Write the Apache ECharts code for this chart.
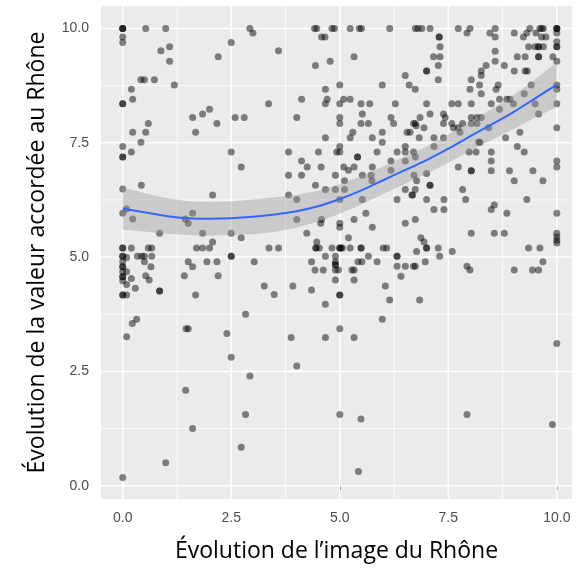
<!DOCTYPE html>
<html>
<head>
<meta charset="utf-8">
<script src="https://cdn.jsdelivr.net/npm/echarts@6/dist/echarts.min.js"></script>
<style>
  html, body { margin: 0; padding: 0; background: #fff; }
  #chart { width: 581px; height: 571px; }
</style>
</head>
<body>
<div id="chart"></div>
<script>
// chaque point : [évolution de l'image, évolution de la valeur]
const points = [
  [0,10],[0,10],[0,10],[0.53,10],[0.99,10],[0,9.81],[0,9.69],[0.88,9.51],[1.08,9.6],[1.08,9.28],
  [0.42,8.88],[0.5,8.88],[0.73,8.88],[1.19,8.76],[0.2,8.67],[0.23,8.45],[0,8.35],[0,8.35],[0.59,7.92],[0.23,7.73],
  [0.53,7.73],[0.42,7.51],[0,7.42],[0.2,7.3],[0,7.19],[0,7.19],[1.61,8.05],[1.84,8.13],[2.0,8.23],[2.17,7.92],
  [1.68,7.73],[2.59,8.05],[2.8,8.05],[2.2,9.38],[2.5,9.69],[2.93,10],[3.0,9.9],[2.5,7.3],[2.73,6.97],
  [4.42,10],[4.47,10],[4.82,10],[4.88,10],[4.58,9.81],[4.66,9.81],[5.24,10],[5.45,10],[5.5,10],[6.15,10],
  [6.74,10],[3.59,9.51],[5.33,9.38],[4.44,9.19],[4.78,9.28],[6.51,8.97],[4.67,8.67],[5.0,8.76],[5.98,8.76],[6.6,8.76],
  [3.36,8.35],[4.12,8.45],[4.71,8.45],[4.67,8.35],[5.0,8.35],[5.09,8.45],[5.24,8.45],[5.49,8.35],[5.69,8.35],[6.28,8.35],
  [4.01,8.05],[5.52,8.13],[5.0,8.05],[5.0,7.92],[5.49,7.92],[5.66,7.92],[6.18,8.05],[6.24,7.92],[6.7,7.92],[5.3,7.73],
  [5.24,7.61],[5.98,7.73],[6.55,7.73],[6.62,7.73],[4.67,7.61],[5.75,7.61],[5.98,7.51],[5.0,7.42],[4.93,7.3],[5.0,7.3],
  [3.82,7.3],[4.51,7.3],[5.86,7.3],[6.32,7.3],[6.51,7.42],[6.51,7.3],[5.41,7.19],[5.41,7.19],[4.12,7.1],[4.25,6.97],
  [4.57,6.97],[5.09,6.97],[5.2,6.9],[5.33,6.97],[5.75,6.97],[6.18,7.1],[6.51,7.1],[6.18,6.9],[6.7,7.3],
  [6.8,10],[6.89,10],[7.08,10],[7.73,10],[8.0,10],[7.93,9.9],[8.46,9.9],[8.58,10],[8.58,9.81],[9.02,9.9],
  [9.38,10],[9.61,10],[9.65,10],[9.69,10],[9.31,9.9],[9.52,9.9],[9.23,9.81],[9.65,9.81],[9.75,9.81],[10,10],
  [10,10],[10,10],[10,9.9],[10,9.71],[10,9.6],[10,9.6],[7.29,9.81],[7.29,9.81],[7.31,9.6],[7.16,9.38],
  [7.31,9.38],[7.27,9.19],[7.0,9.07],[7.0,9.07],[7.27,8.88],[8.58,9.5],[8.58,9.28],[8.79,9.19],[9.09,9.38],[9.27,9.38],
  [9.35,9.6],[9.5,9.6],[9.58,9.6],[9.58,9.6],[9.69,9.6],[9.58,9.38],[9.58,9.38],[9.91,9.38],[10,9.28],[9.27,9.07],
  [9.32,9.07],[9.02,9.07],[8.37,9.19],[8.26,9.07],[8.26,8.97],[8.03,8.88],[8.22,8.76],[8.65,8.76],[8.6,8.67],[8.0,8.67],
  [8.26,8.57],[6.74,8.67],[9.41,8.76],[10,8.76],[10,8.67],[10,8.35],[7.0,8.35],[7.58,8.35],[7.73,8.35],[8.03,8.35],
  [8.49,8.35],[8.68,8.45],[8.85,8.45],[8.92,8.45],[9.0,8.35],[9.25,8.57],[9.5,8.35],[9.58,8.13],[8.68,8.23],[7.08,8.13],
  [7.39,8.13],[7.43,8.05],[6.85,8.05],[6.74,7.92],[6.76,7.87],[6.94,7.83],[7.39,7.92],[7.58,7.92],[7.62,7.83],[7.83,7.92],
  [7.73,7.83],[7.77,7.73],[8.03,8.05],[8.16,8.05],[8.26,8.05],[8.03,7.92],[8.16,7.92],[8.43,7.83],[9.15,7.73],[10,7.83],
  [6.83,7.61],[7.17,7.61],[7.39,7.61],[8.2,7.51],[8.23,7.51],[8.82,7.61],[9.09,7.42],[9.25,7.3],[7.17,7.42],[6.74,7.19],
  [7.98,7.3],[8.14,7.3],[8.49,7.3],[8.49,7.1],[8.49,6.89],[7.73,6.97],[8.03,6.89],[8.03,6.89],[8.91,6.89],[9.45,6.89],
  [10,7.1],[10,6.97],[7.0,6.83],
  [0,6.49],[0.43,6.57],[0,5.96],[0.09,6.05],[0.23,5.83],[2.07,6.36],[1.61,5.96],[1.44,5.83],[1.51,5.74],[0.85,5.52],
  [1.84,5.52],[2.5,5.52],[2.73,5.42],[2.07,5.33],[1.7,5.2],[1.84,5.2],[2.0,5.2],[0,5.2],[0,5.2],[0,5.02],
  [0,5.02],[0,4.9],[0,4.79],[0,4.79],[0,4.68],[0,4.57],[0,4.57],[0,4.48],[0.2,5.2],[0.09,4.99],
  [0.09,4.68],[0.2,4.53],[0.09,4.4],[0.29,4.32],[0.34,5.02],[0.44,5.02],[0.5,5.02],[0.59,5.2],[0.67,5.2],[0.67,5.02],
  [0.5,4.9],[0.65,4.79],[0.53,4.59],[0.61,4.5],[0,4.17],[0,4.17],[0.09,4.17],[0.85,4.26],[0.85,4.26],[1.51,4.9],
  [1.61,4.79],[1.42,4.59],[1.94,4.9],[2.17,4.9],[2.2,4.59],[2.5,5.02],[2.5,5.02],[3.03,4.9],[1.68,4.17],[2.83,3.75],
  [0.22,3.55],[0.32,3.64],[0.09,3.26],[1.46,3.43],[1.51,3.43],[2.4,3.33],
  [2.5,2.81],[2.93,2.4],[1.45,2.09],[2.83,1.56],[1.61,1.25],[2.73,0.84],[0.99,0.5],[0,0.18],
  [3.88,3.24],[4.67,3.24],[5.33,3.24],[4.01,2.62],[5.0,1.56],[5.49,1.46],[5.43,0.31],
  [10,3.11],[7.93,1.56],[9.9,1.34],
  [3.82,6.79],[4.12,6.79],[4.9,6.79],[5.52,6.79],[5.72,6.79],[5.11,6.67],[5.74,6.67],[4.44,6.57],[4.67,6.48],[4.9,6.48],
  [5.11,6.48],[3.82,6.36],[4.01,6.26],[5.0,6.26],[5.52,6.26],[5.6,5.96],[6.32,6.26],[6.51,6.48],[6.66,6.36],[4.01,5.82],
  [4.58,5.82],[4.56,5.74],[5.0,5.74],[5.0,5.65],[5.33,5.82],[5.75,5.65],[6.51,5.74],[4.24,5.52],[4.47,5.33],[5.2,5.42],
  [3.37,5.2],[3.59,5.2],[4.45,5.2],[4.45,5.2],[4.53,5.2],[4.82,5.2],[5.0,5.2],[5.0,5.2],[5.03,5.2],[5.06,5.2],
  [5.24,5.2],[5.49,5.2],[5.49,5.2],[6.0,5.2],[6.08,5.2],[6.32,5.02],[6.32,5.02],[4.35,4.9],[4.67,5.02],[4.9,5.02],
  [4.9,4.9],[4.9,4.83],[4.9,4.83],[4.9,4.72],[5.42,4.9],[5.51,4.9],[5.66,5.02],[5.86,4.9],[6.32,4.8],[6.51,4.8],
  [6.7,4.8],[4.43,4.72],[4.62,4.72],[4.97,4.72],[5.28,4.72],[5.33,4.72],[4.9,4.5],[5.33,4.5],[6.41,4.58],[3.26,4.37],
  [3.49,4.18],[3.92,4.37],[4.35,4.28],[5.0,4.17],[5.0,4.17],[6.05,4.37],[6.15,4.06],[4.67,3.97],[5.98,3.64],[5.0,3.43],
  [6.71,6.79],[6.77,6.67],[7.08,6.57],[7.08,6.57],[6.74,6.48],[6.68,6.36],[7.0,6.26],[7.4,6.26],[7.83,6.48],[7.9,6.26],
  [7.17,6.04],[7.4,6.04],[6.74,5.82],[8.49,6.04],[8.56,6.14],[8.85,5.96],[9.31,6.26],[9.02,6.67],[9.68,6.67],[10,5.96],
  [8.03,5.52],[8.56,5.52],[8.79,5.52],[10,5.52],[10,5.44],[10,5.37],[10,5.31],[6.87,5.42],[6.94,5.33],[7.0,5.2],
  [7.0,5.2],[7.27,5.2],[6.77,5.12],[7.59,5.12],[7.3,5.02],[6.74,4.8],[6.97,4.9],[7.93,4.8],[8.0,4.72],[9.35,5.2],
  [9.61,5.2],[9.68,4.9],[9.02,4.72],[9.44,4.72],[9.58,4.72],[6.84,4.06]
];

// courbe lissée (loess) et intervalle de confiance
const smoothX = [0, 0.5, 1, 1.5, 2, 2.5, 3, 3.5, 4, 4.5, 5, 5.5, 6, 6.5, 7, 7.5, 8, 8.5, 9, 9.5, 10];
const smoothY = [6.06, 5.98, 5.9, 5.85, 5.84, 5.85, 5.88, 5.93, 6.0, 6.11, 6.27, 6.46, 6.68, 6.9, 7.12, 7.37, 7.64, 7.9, 8.17, 8.47, 8.77];
const bandLow = [5.6, 5.56, 5.51, 5.48, 5.47, 5.48, 5.5, 5.55, 5.64, 5.77, 5.95, 6.15, 6.38, 6.6, 6.82, 7.06, 7.32, 7.56, 7.8, 8.05, 8.28];
const bandHigh = [6.52, 6.4, 6.29, 6.22, 6.21, 6.22, 6.26, 6.31, 6.36, 6.45, 6.59, 6.77, 6.98, 7.2, 7.42, 7.68, 7.96, 8.24, 8.54, 8.89, 9.26];

const majorBreaks = [0, 2.5, 5, 7.5, 10];
const minorBreaks = [1.25, 3.75, 6.25, 8.75];

// [valeur, épaisseur du trait]
var gridData = majorBreaks.map(function (v) { return [v, 1.5]; })
  .concat(minorBreaks.map(function (v) { return [v, 0.8]; }));

var tickLabel = { color: '#4D4D4D', fontSize: 14, fontFamily: 'Liberation Sans, Arial, sans-serif' };
var titleFont = { color: '#000', fontSize: 23, fontFamily: 'Open Sans, sans-serif' };

var myChart = echarts.init(document.getElementById('chart'));
myChart.setOption({
  animation: false,
  grid: {
    left: 101, right: 9, top: 6, bottom: 72,
    show: true, backgroundColor: '#EBEBEB', borderWidth: 0
  },
  xAxis: {
    type: 'value',
    min: -0.5, max: 10.35,
    name: 'Évolution de l’image du Rhône',
    nameLocation: 'middle',
    nameGap: 41,
    nameTextStyle: titleFont,
    axisLine: { show: false },
    axisTick: { show: true, customValues: majorBreaks, length: 4, lineStyle: { color: '#333', width: 1 } },
    axisLabel: Object.assign({ customValues: majorBreaks, margin: 12, formatter: function (v) { return v.toFixed(1); } }, tickLabel),
    splitLine: { show: false }
  },
  yAxis: {
    type: 'value',
    min: -0.29, max: 10.49,
    name: 'Évolution de la valeur accordée au Rhône',
    nameLocation: 'middle',
    nameGap: 52,
    nameRotate: 90,
    nameTextStyle: titleFont,
    axisLine: { show: false },
    axisTick: { show: true, customValues: majorBreaks, length: 4, lineStyle: { color: '#333', width: 1 } },
    axisLabel: Object.assign({ customValues: majorBreaks, margin: 12, formatter: function (v) { return v.toFixed(1); } }, tickLabel),
    splitLine: { show: false }
  },
  series: [
    {
      // grille blanche du panneau
      type: 'custom',
      data: gridData,
      z: 1,
      silent: true,
      clip: false,
      renderItem: function (params, api) {
        var v = api.value(0);
        var w = api.value(1);
        var cs = params.coordSys;
        var px = api.coord([v, 0])[0];
        var py = api.coord([0, v])[1];
        return {
          type: 'group',
          children: [
            { type: 'line', shape: { x1: px, y1: cs.y, x2: px, y2: cs.y + cs.height }, style: { stroke: '#fff', lineWidth: w } },
            { type: 'line', shape: { x1: cs.x, y1: py, x2: cs.x + cs.width, y2: py }, style: { stroke: '#fff', lineWidth: w } }
          ]
        };
      }
    },
    {
      type: 'scatter',
      data: points,
      symbolSize: 7,
      z: 2,
      itemStyle: { color: 'rgba(0,0,0,0.6)' }
    },
    {
      // intervalle de confiance
      type: 'custom',
      data: [[0, 0]],
      z: 3,
      silent: true,
      renderItem: function (params, api) {
        var pts = [];
        for (var i = 0; i < smoothX.length; i++) pts.push(api.coord([smoothX[i], bandHigh[i]]));
        for (var j = smoothX.length - 1; j >= 0; j--) pts.push(api.coord([smoothX[j], bandLow[j]]));
        return { type: 'polygon', shape: { points: pts }, style: { fill: 'rgba(153,153,153,0.4)' } };
      }
    },
    {
      type: 'line',
      data: smoothX.map(function (x, i) { return [x, smoothY[i]]; }),
      symbol: 'none',
      smooth: 0.3,
      z: 4,
      lineStyle: { color: '#3366FF', width: 2 }
    }
  ]
});
</script>
</body>
</html>
